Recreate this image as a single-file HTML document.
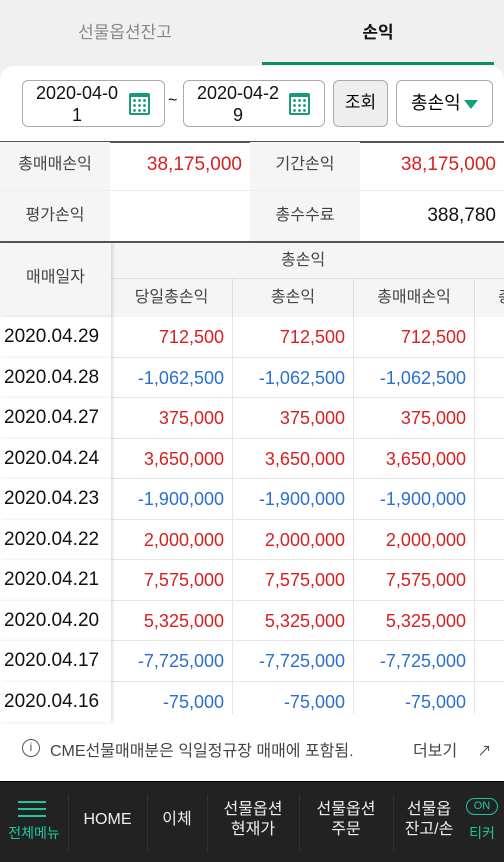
<!DOCTYPE html>
<html><head><meta charset="utf-8">
<style>
*{box-sizing:border-box;margin:0;padding:0}
body{width:504px;height:862px;overflow:hidden;background:#f0f0f0;font-family:"Liberation Sans","Noto Sans CJK KR",sans-serif;position:relative}
.a{position:absolute}
.tab{top:18px;font-size:17px;text-align:center}
.panel{top:66px;left:0;width:504px;height:716px;background:#fff;border-radius:14px 14px 0 0}
.box{top:80px;height:47px;border:1.5px solid #aaa;border-radius:6px;background:#fff}
.dt{font-size:18px;line-height:22px;text-align:center;color:#111;left:4px;width:100px;top:1px}
.cal{right:14px;top:12px;width:21px;height:22px;border:2px solid #1a9a7a;border-top-width:4px;border-radius:2px;background:radial-gradient(circle,#1a9a7a 1.2px,transparent 1.6px) 1px 1px/5px 5px}
.lbl{background:#f5f5f5;color:#444;font-size:16px;text-align:center}
.cell{font-size:18px;text-align:right;padding-right:8px}
.r{color:#d82020}.b{color:#2a70d0}
.hdr{font-size:16px;color:#444;text-align:center;background:#f5f5f5}
.nav{color:#eee;font-size:16px;text-align:center;line-height:20px}
</style></head><body>
<div class="a tab" style="left:30px;width:190px;color:#888">선물옵션잔고</div>
<div class="a tab" style="left:262px;width:232px;color:#111;font-weight:bold">손익</div>
<div class="a" style="left:262px;top:62px;width:232px;height:3px;background:#0e8d6c"></div>
<div class="a panel"></div>

<div class="a box" style="left:22px;width:143px"><div class="a dt">2020-04-0<br>1</div><div class="a cal"></div></div>
<div class="a" style="left:168px;top:92px;font-size:16px">~</div>
<div class="a box" style="left:183px;width:142px"><div class="a dt">2020-04-2<br>9</div><div class="a cal"></div></div>
<div class="a box" style="left:333px;width:55px;background:#eee;font-size:17px;text-align:center;line-height:44px">조회</div>
<div class="a box" style="left:396px;width:97px;font-size:18px;line-height:44px;padding-left:14px">총손익<span style="position:absolute;right:14px;top:19px;border-left:7px solid transparent;border-right:7px solid transparent;border-top:9px solid #13a07a"></span></div>

<div class="a" style="left:0;top:141px;width:504px;height:1.5px;background:#555"></div>
<div class="a lbl" style="left:0;top:142px;width:110px;height:48px;line-height:46px">총매매손익</div>
<div class="a cell r" style="left:110px;top:142px;width:140px;line-height:46px;font-size:19px">38,175,000</div>
<div class="a lbl" style="left:250px;top:142px;width:110px;height:48px;line-height:46px">기간손익</div>
<div class="a cell r" style="left:360px;top:142px;width:144px;line-height:46px;font-size:19px">38,175,000</div>
<div class="a" style="left:0;top:190px;width:504px;height:1px;background:#eee"></div>
<div class="a lbl" style="left:0;top:191px;width:110px;height:50px;line-height:50px">평가손익</div>
<div class="a lbl" style="left:250px;top:191px;width:110px;height:50px;line-height:50px">총수수료</div>
<div class="a cell" style="left:360px;top:191px;width:144px;line-height:50px;font-size:19px;color:#111">388,780</div>
<div class="a" style="left:0;top:241px;width:504px;height:1.5px;background:#555"></div>

<div class="a hdr" style="left:0;top:243px;width:111px;height:74px;line-height:70px;box-shadow:2px 0 3px rgba(0,0,0,.12);z-index:2">매매일자</div>
<div class="a hdr" style="left:111px;top:243px;width:393px;height:36px;line-height:36px;border-bottom:1px solid #e0e0e0;padding-left:170px;text-align:left">총손익</div>
<div class="a hdr" style="left:111px;top:279px;width:122px;height:38px;line-height:38px;border-right:1px solid #ddd">당일총손익</div>
<div class="a hdr" style="left:233px;top:279px;width:121px;height:38px;line-height:38px;border-right:1px solid #ddd">총손익</div>
<div class="a hdr" style="left:354px;top:279px;width:121px;height:38px;line-height:38px;border-right:1px solid #ddd">총매매손익</div>
<div class="a hdr" style="left:476px;top:279px;width:28px;height:38px;line-height:38px;text-align:left;padding-left:22px">총</div>
<div id="rows"></div>

<div class="a" style="left:0;top:714px;width:504px;height:68px;background:#fff"></div>
<div class="a" style="left:22px;top:739px;width:18px;height:18px;border:1.5px solid #555;border-radius:50%;font-size:12px;text-align:center;line-height:15px;color:#555">i</div>
<div class="a" style="left:50px;top:737px;font-size:16px;color:#444">CME선물매매분은 익일정규장 매매에 포함됨.</div>
<div class="a" style="left:413px;top:737px;font-size:16px;color:#444">더보기 <span style="margin-left:16px;font-size:14px">↗</span></div>

<div class="a" style="left:0;top:781px;width:504px;height:81px;background:#222;border-top:1px solid #000"></div>
<div class="a" style="left:18px;top:801px;width:28px;height:16px;border-top:2px solid #1fc7a0;border-bottom:2px solid #1fc7a0"><div style="margin-top:5px;height:2px;background:#1fc7a0"></div></div>
<div class="a nav" style="left:0;top:823px;width:68px;font-size:14px;color:#1fc7a0">전체메뉴</div>
<div class="a nav" style="left:68px;top:810px;width:79px">HOME</div>
<div class="a nav" style="left:147px;top:810px;width:60px">이체</div>
<div class="a nav" style="left:207px;top:800px;width:92px">선물옵션<br>현재가</div>
<div class="a nav" style="left:299px;top:800px;width:94px">선물옵션<br>주문</div>
<div class="a nav" style="left:393px;top:800px;width:72px;overflow:hidden;white-space:nowrap">선물옵<br>잔고/손</div>
<div class="a" style="left:466px;top:798px;width:32px;height:17px;border:1.5px solid #1fc7a0;border-radius:9px;color:#1fc7a0;font-size:11px;text-align:center;line-height:14px">ON</div>
<div class="a nav" style="left:462px;top:823px;width:40px;font-size:14px;color:#1fc7a0">티커</div>
<div class="a" style="left:68px;top:795px;width:1px;height:56px;background:#333"></div>
<div class="a" style="left:147px;top:795px;width:1px;height:56px;background:#333"></div>
<div class="a" style="left:207px;top:795px;width:1px;height:56px;background:#333"></div>
<div class="a" style="left:299px;top:795px;width:1px;height:56px;background:#333"></div>
<div class="a" style="left:393px;top:795px;width:1px;height:56px;background:#333"></div>

<script>
const dates=["2020.04.29","2020.04.28","2020.04.27","2020.04.24","2020.04.23","2020.04.22","2020.04.21","2020.04.20","2020.04.17","2020.04.16"];
const dailyPL=[712500,-1062500,375000,3650000,-1900000,2000000,7575000,5325000,-7725000,-75000];
const totalPL=[712500,-1062500,375000,3650000,-1900000,2000000,7575000,5325000,-7725000,-75000];
const tradePL=[712500,-1062500,375000,3650000,-1900000,2000000,7575000,5325000,-7725000,-75000];
const host=document.getElementById('rows');
const fmt=v=>(v<0?'-':'')+Math.abs(v).toLocaleString('en-US');
const rowTop=317,rowH=40.5;
dates.forEach((d,i)=>{
  const y=rowTop+i*rowH;
  const r=document.createElement('div');
  r.className='a';
  
  
  r.style.cssText=`left:0;top:${y}px;width:504px;height:${rowH}px;background:#fff;border-bottom:1px solid #e6e6e6`;
  const dc=document.createElement('div');
  dc.className='a';
  
  
  dc.style.cssText=`left:0;top:0;width:111px;height:${rowH}px;line-height:${rowH}px;font-size:19px;color:#111;padding-left:4px;background:#fff;box-shadow:2px 0 3px rgba(0,0,0,.12);z-index:2`;
  dc.textContent=d;
  r.appendChild(dc);
  [[dailyPL,111,122],[totalPL,233,121],[tradePL,354,121]].forEach(([arr,x,w])=>{
    const c=document.createElement('div');
    c.className='a '+(arr[i]<0?'b':'r');
    
    
    c.style.cssText=`left:${x}px;top:0;width:${w}px;height:${rowH}px;line-height:${rowH}px;font-size:18px;text-align:right;padding-right:8px;border-right:1px solid #e6e6e6`;
    c.textContent=fmt(arr[i]);
    r.appendChild(c);
  });
  host.appendChild(r);
});
</script>
</body></html>
